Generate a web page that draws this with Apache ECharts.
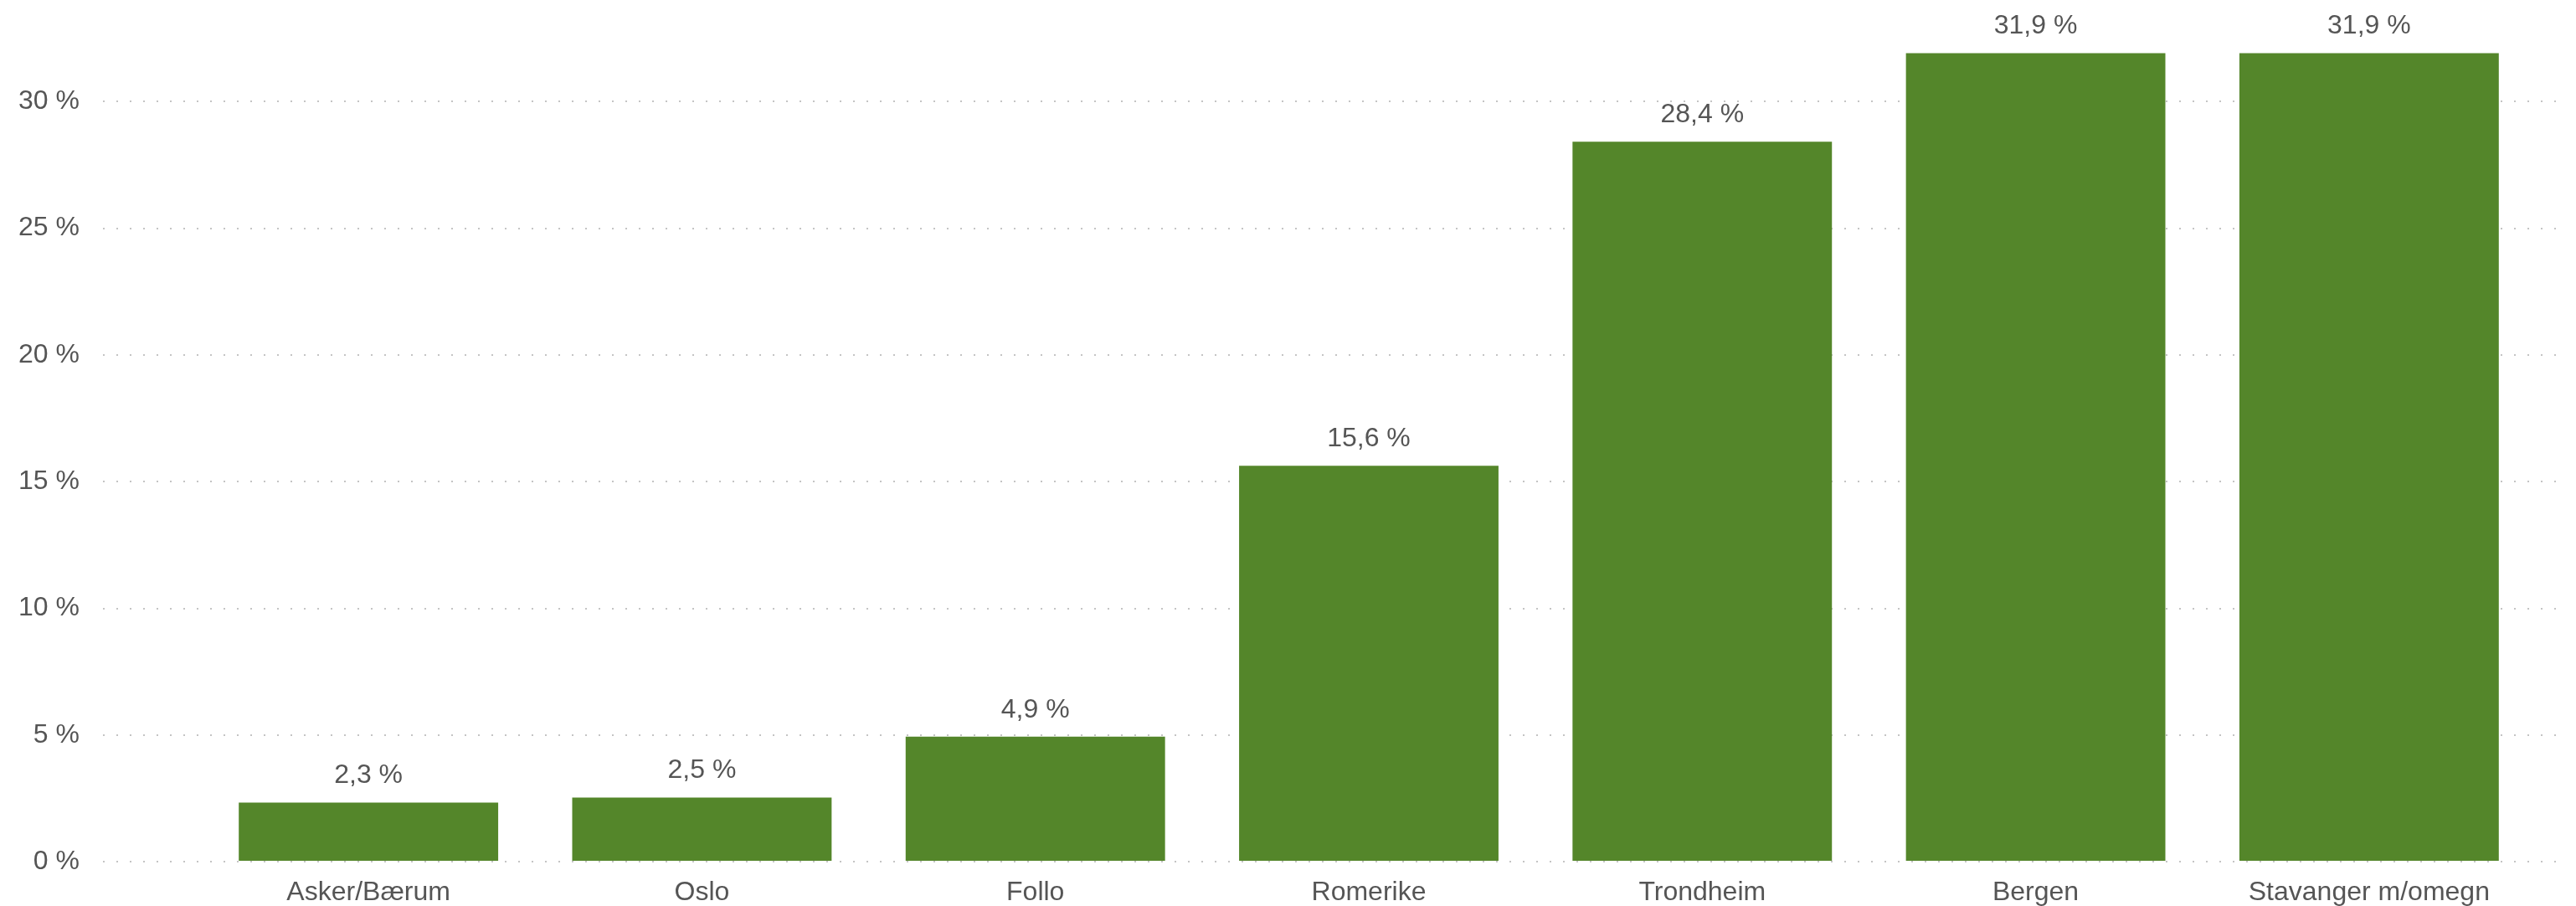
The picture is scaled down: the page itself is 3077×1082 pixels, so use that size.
<!DOCTYPE html>
<html>
<head>
<meta charset="utf-8">
<script src="https://cdn.jsdelivr.net/npm/echarts@6/dist/echarts.min.js"></script>
<style>
html,body{margin:0;padding:0;background:#fff;}
#chart{width:3077px;height:1082px;}
</style>
</head>
<body>
<div id="chart"></div>
<script>
const categories = ['Asker/Bærum', 'Oslo', 'Follo', 'Romerike', 'Trondheim', 'Bergen', 'Stavanger m/omegn'];
const values = [2.3, 2.5, 4.9, 15.6, 28.4, 31.9, 31.9];
const yTicks = [0, 5, 10, 15, 20, 25, 30];

const FONT = '"Liberation Sans", Arial, sans-serif';
const TEXT = '#555555';
const YMAX = 34;
const gridColors = yTicks.map(() => '#c4c4c4').concat(['rgba(0,0,0,0)']);
const chart = echarts.init(document.getElementById('chart'));
chart.setOption({
  animation: false,
  backgroundColor: '#ffffff',
  grid: [
    {left: 123, right: 22, top: 0, bottom: 53},
    {left: 241, right: 48, top: 0, bottom: 53}
  ],
  xAxis: [
    {gridIndex: 0, type: 'value', show: false, min: 0, max: 1},
    {gridIndex: 1, type: 'category', data: categories,
     axisLine: {show: false}, axisTick: {show: false},
     axisLabel: {color: TEXT, fontSize: 32, fontFamily: FONT, margin: 22}}
  ],
  yAxis: [
    {gridIndex: 0, type: 'value', min: yTicks[0], max: YMAX, interval: 5,
     axisLine: {show: false}, axisTick: {show: false},
     axisLabel: {color: TEXT, fontSize: 32, fontFamily: FONT, margin: 28, showMaxLabel: false,
       formatter: v => yTicks.includes(v) ? v + ' %' : ''},
     splitLine: {show: true, lineStyle: {color: gridColors, width: 2, type: [2, 14]}}},
    {gridIndex: 1, type: 'value', min: 0, max: YMAX, interval: 5, show: false,
     splitLine: {show: false}}
  ],
  series: [{
    type: 'bar',
    xAxisIndex: 1, yAxisIndex: 1,
    data: values,
    barWidth: '77.8%',
    itemStyle: {color: '#54862A'},
    label: {show: true, position: 'top', distance: 16, color: TEXT, fontSize: 32, fontFamily: FONT,
      formatter: p => p.value.toFixed(1).replace('.', ',') + ' %'}
  }]
});
</script>
</body>
</html>
